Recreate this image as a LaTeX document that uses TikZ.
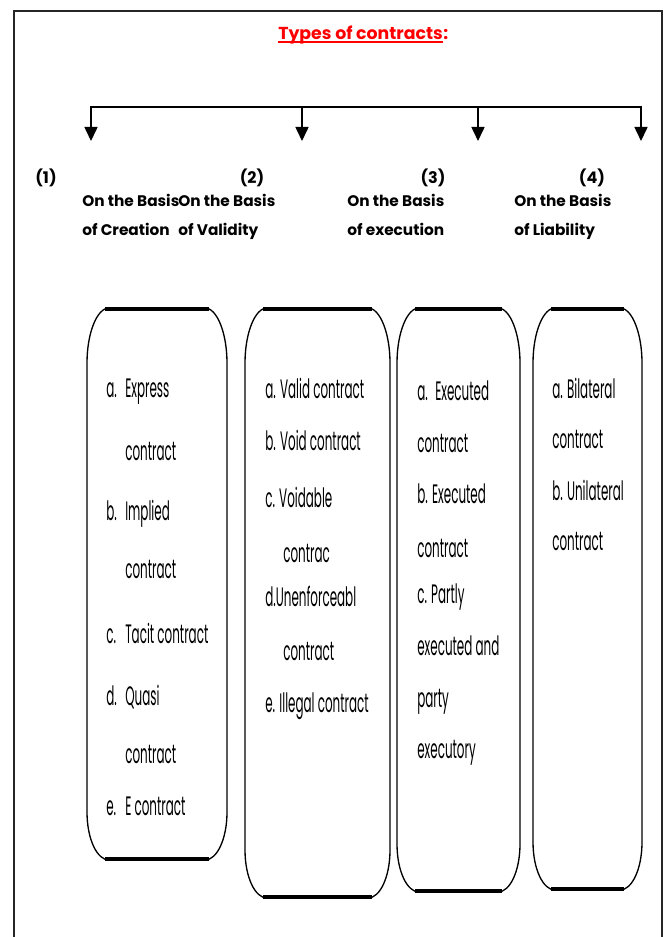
\documentclass[tikz,border=0pt]{standalone}
\usepackage{fontspec}
\setmainfont{Poppins}
\newfontfamily\condfont[FakeStretch=0.447]{Poppins}
\usetikzlibrary{arrows.meta}
\newcommand\itlab[2][14.25pt]{\makebox[#1][l]{#2}}
\begin{document}
\begin{tikzpicture}[x=0.75pt,y=-0.75pt,
  hdr/.style={font=\bfseries\fontsize{11.5}{14}\selectfont, anchor=base west, inner sep=0},
  num/.style={font=\bfseries\fontsize{12}{14}\selectfont, anchor=base, inner sep=0},
  itm/.style={font=\condfont\fontsize{20}{23}\selectfont, anchor=base west, inner sep=0},
  ttlstyle/.style={font=\bfseries\fontsize{13}{16}\selectfont, text=red, anchor=base west, inner sep=0},
  conn/.style={line width=1.2pt},
  arr/.style={conn, -{Triangle[width=9.75pt,length=10.5pt]}},
  frame/.style={line width=1.5pt, black!85},
  ovbox/.style={line width=1pt},
  ovedge/.style={line width=2.6pt}
]
\useasboundingbox (0,0) rectangle (663,937);
\draw[frame] (14,950) -- (14,11) -- (662,11) -- (662,950);

% title
\node[ttlstyle] (ttl) at (278,40) {Types of contracts};
\node[ttlstyle] (colon) at (ttl.base east) {:};
\draw[red, line width=1.1pt] ([yshift=-1.4pt]ttl.base west) -- ([yshift=-1.4pt]ttl.base east);

% connector
\coordinate (b1) at (91,107);
\coordinate (b2) at (302,107);
\coordinate (b3) at (478,107);
\coordinate (b4) at (641,107);
\coordinate (t1) at (91,141);
\coordinate (t2) at (302,141);
\coordinate (t3) at (478,141);
\coordinate (t4) at (641,141);
\draw[conn, line cap=rect] (b1) -- (b4);
\foreach \i in {1,...,4} \draw[arr] (b\i) -- (t\i);

% numbers
\node[num] (l1) at (46,184) {(1)};
\node[num] (l2) at (252,184) {(2)};
\node[num] (l3) at (433,184) {(3)};
\node[num] (l4) at (592,184) {(4)};

% headings
\node[hdr] (h1a) at (82,207) {On the Basis};
\node[hdr] (h1b) at (82,236) {of Creation};
\node[hdr] (h2a) at (178,207) {On the Basis};
\node[hdr] (h2b) at (178,236) {of Validity};
\node[hdr] (h3a) at (347,207) {On the Basis};
\node[hdr] (h3b) at (347,236) {of execution};
\node[hdr] (h4a) at (514,207) {On the Basis};
\node[hdr] (h4b) at (514,236) {of Liability};

% boxes
\foreach \xa/\ya/\xb/\yb in {87/308/227/860, 245/308/390/898, 397/308/520/892, 533/308/642/890} {
  \draw[ovbox] (\xa,\ya+55) .. controls (\xa,\ya+25) and (\xa+10,\ya) .. (\xa+22,\ya)
     -- (\xb-22,\ya) .. controls (\xb-10,\ya) and (\xb,\ya+25) .. (\xb,\ya+55)
     -- (\xb,\yb-48) .. controls (\xb,\yb-21) and (\xb-10,\yb) .. (\xb-22,\yb)
     -- (\xa+22,\yb) .. controls (\xa+10,\yb) and (\xa,\yb-21) .. (\xa,\yb-48) -- cycle;
  \draw[ovedge] (\xa+18,\ya+0.8) -- (\xb-18,\ya+0.8);
  \draw[ovedge] (\xa+18,\yb-0.8) -- (\xb-18,\yb-0.8);
}

% box 1
\node[itm] (n11) at (106,397) {\itlab{a.}Express};
\node[itm] (n12) at (125,460) {contract};
\node[itm] (n13) at (106,520) {\itlab{b.}Implied};
\node[itm] (n14) at (125,578) {contract};
\node[itm] (n15) at (106,643) {\itlab{c.}Tacit contract};
\node[itm] (n16) at (106,705) {\itlab{d.}Quasi};
\node[itm] (n17) at (125,763) {contract};
\node[itm] (n18) at (106,815) {\itlab{e.}E contract};

% box 2
\node[itm] (n21) at (265,398) {a. Valid contract};
\node[itm] (n22) at (265,450) {b. Void contract};
\node[itm] (n23) at (265,507) {c. Voidable};
\node[itm] (n24) at (283,562) {contrac};
\node[itm] (n25) at (265,606) {d.Unenforceabl};
\node[itm] (n26) at (283,660) {contract};
\node[itm] (n27) at (265,712) {e. Illegal contract};

% box 3
\node[itm] (n31) at (417,400) {\itlab[13.5pt]{a.}Executed};
\node[itm] (n32) at (417,452) {contract};
\node[itm] (n33) at (417,503) {b. Executed};
\node[itm] (n34) at (417,557) {contract};
\node[itm] (n35) at (417,603) {c. Partly};
\node[itm] (n36) at (417,655) {executed and};
\node[itm] (n37) at (417,707) {party};
\node[itm] (n38) at (417,758) {executory};

% box 4
\node[itm] (n41) at (552,398) {a. Bilateral};
\node[itm] (n42) at (552,448) {contract};
\node[itm] (n43) at (552,500) {b. Unilateral};
\node[itm] (n44) at (552,550) {contract};
\end{tikzpicture}
\end{document}
